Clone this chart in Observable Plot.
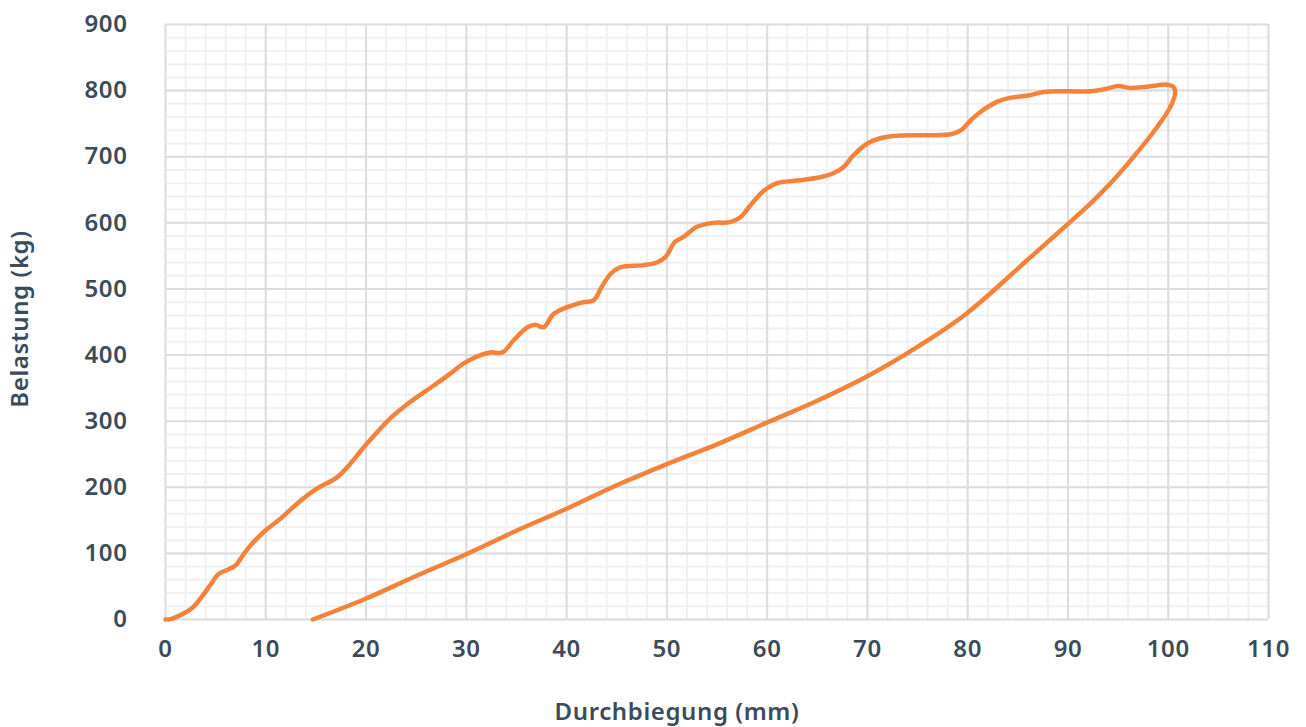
<!DOCTYPE html>
<html>
<head>
<meta charset="utf-8">
<script src="https://cdn.jsdelivr.net/npm/d3@7"></script>
<script src="https://cdn.jsdelivr.net/npm/@observablehq/plot@0.6"></script>
<style>
  html, body { margin: 0; padding: 0; background: #fff; }
  #chart { width: 1306px; height: 727px; }
  #chart svg text { letter-spacing: 0.6px; }
</style>
</head>
<body>
<div id="chart"></div>
<script>
// Loading curve (Durchbiegung mm, Belastung kg)
const loadX = [0, 0.6, 1.8, 2.7, 3.7, 4.65, 5.3, 6.15, 7.0, 7.8, 8.65, 10, 11.5, 13.5, 15.1, 17.1, 18.4, 19.8, 22.4, 24.4, 26.75, 28.4, 29.7, 31.4, 32.4, 33.6, 34.7, 36.1, 36.9, 37.7, 38.7, 40.0, 41.7, 42.7, 43.5, 44.4, 45.4, 47.7, 49.0, 49.85, 50.8, 51.7, 53.0, 54.7, 56.3, 57.3, 58.3, 59.7, 61.0, 63.0, 65.3, 66.6, 67.6, 68.6, 70.0, 71.6, 73.3, 78.3, 79.3, 80.3, 81.3, 82.9, 84.2, 86.2, 87.6, 89.9, 92.2, 93.9, 95.0, 96.2, 97.9, 99.9, 100.5];
const loadY = [0, 1, 9, 18, 36, 56, 69, 75, 82, 99, 115, 135, 153, 180, 198, 215, 235, 261, 304, 329, 354, 372, 387, 400, 404, 404, 422, 442, 446, 442, 462, 472, 480, 483, 503, 523, 533, 536, 540, 548, 571, 579, 594, 600, 601, 608, 626, 649, 660, 664, 669, 675, 684, 702, 720, 729, 732, 734, 740, 755, 768, 783, 789, 793, 798, 799, 799, 803, 807, 804, 806, 809, 806];
// Unloading curve
const unloadX = [100.7, 100.2, 98.9, 96.5, 94.5, 92.5, 89.9, 85.9, 79.9, 74.95, 70, 65, 60, 55, 50, 45, 40, 35.1, 30.1, 25.1, 19.9, 14.7];
const unloadY = [798, 775, 745, 699, 664, 633, 597, 543, 463, 412, 368, 331, 298, 265, 235, 203, 167.5, 135, 99.5, 66.6, 31, 0];

const xTicks = [0, 10, 20, 30, 40, 50, 60, 70, 80, 90, 100, 110];
const yTicks = [0, 100, 200, 300, 400, 500, 600, 700, 800, 900];
const xMinor = d3.range(0, 111, 2);
const yMinor = d3.range(0, 901, 20);

const curve = [
  ...loadX.map((x, i) => ({x, y: loadY[i]})),
  ...unloadX.map((x, i) => ({x, y: unloadY[i]}))
];

const textColor = "#3b4b5c";
const font = "'Noto Sans', sans-serif";

const chart = Plot.plot({
  width: 1306,
  height: 727,
  marginLeft: 165,
  marginRight: 38,
  marginTop: 24,
  marginBottom: 108,
  style: {fontFamily: font, fontSize: "24px", color: textColor, fontWeight: 600, background: "#fff"},
  x: {domain: [0, 110]},
  y: {domain: [0, 900]},
  marks: [
    Plot.ruleX(xMinor, {stroke: "#eff0f2", strokeWidth: 2, strokeOpacity: 1}),
    Plot.ruleY(yMinor, {stroke: "#eff0f2", strokeWidth: 2, strokeOpacity: 1}),
    Plot.ruleX(xTicks, {stroke: "#dcdde0", strokeWidth: 2, strokeOpacity: 1}),
    Plot.ruleY(yTicks, {stroke: "#dcdde0", strokeWidth: 2, strokeOpacity: 1}),
    Plot.axisX(xTicks, {tickSize: 0, tickPadding: 20, label: null, fill: textColor, fontSize: 24}),
    Plot.axisY(yTicks, {tickSize: 0, tickPadding: 38, label: null, fill: textColor, fontSize: 24}),
    Plot.text(["Durchbiegung (mm)"], {frameAnchor: "bottom", textAnchor: "middle", dx: -40, dy: 100, fill: textColor, fontSize: 24, fontWeight: 600}),
    Plot.text(["Belastung (kg)"], {frameAnchor: "left", textAnchor: "middle", dx: -145, dy: -3, rotate: -90, fill: textColor, fontSize: 24, fontWeight: 600}),
    Plot.line(curve, {x: "x", y: "y", stroke: "#f5823a", strokeWidth: 4.5, curve: "catmull-rom", strokeLinejoin: "round", strokeLinecap: "round"})
  ]
});
document.getElementById("chart").appendChild(chart);
</script>
</body>
</html>
